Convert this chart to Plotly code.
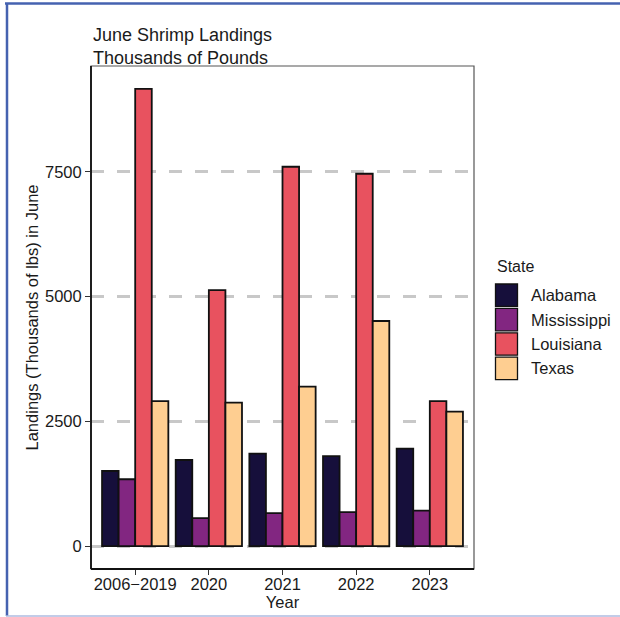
import plotly.graph_objects as go

# June shrimp landings by state (thousands of pounds)
years = ["2006\u22122019", "2020", "2021", "2022", "2023"]
states = ["Alabama", "Mississippi", "Louisiana", "Texas"]
alabama = [1505, 1725, 1855, 1805, 1955]
mississippi = [1340, 560, 660, 680, 710]
louisiana = [9160, 5130, 7600, 7460, 2905]
texas = [2905, 2875, 3195, 4510, 2695]
y_ticks = [0, 2500, 5000, 7500]

series = [alabama, mississippi, louisiana, texas]
colors = ["#160F3B", "#822681", "#E8525F", "#FECE91"]

W, H = 620, 617
L, R, T, B = 91, 474, 66, 569  # plot-area edges in pixels
FONT = "Liberation Sans, Arial, sans-serif"


def px(x):
    return (x - L) / (R - L)


def py(y):
    return (B - y) / (B - T)


fig = go.Figure()
for name, vals, col in zip(states, series, colors):
    fig.add_trace(go.Bar(
        x=years, y=vals, name=name,
        marker=dict(color=col, line=dict(color="#111111", width=1.8)),
        showlegend=False,
    ))

ymax = max(max(s) for s in series)

fig.update_layout(
    width=W, height=H,
    margin=dict(l=L, r=W - R, t=T, b=H - B, pad=0, autoexpand=False),
    paper_bgcolor="white", plot_bgcolor="white",
    barmode="group", bargap=0.1, bargroupgap=0,
    font=dict(family=FONT, color="#1a1a1a"),
    xaxis=dict(
        type="category", range=[-0.6, len(years) - 0.4],
        showgrid=False, zeroline=False, automargin=False,
        ticks="outside", ticklen=5, tickwidth=1.2, tickcolor="#333333",
        ticklabelstandoff=-5,
        tickfont=dict(size=16.5, color="#1a1a1a"),
        title=dict(text="Year", font=dict(size=16.5, color="#1a1a1a"), standoff=3),
        showline=False,
    ),
    yaxis=dict(
        range=[-0.05 * ymax, 1.05 * ymax], automargin=False,
        tickvals=y_ticks, ticktext=[str(v) for v in y_ticks],
        showgrid=True, gridcolor="#c8c8c8", gridwidth=3, griddash="13px,13px",
        zeroline=False,
        ticks="outside", ticklen=5, tickwidth=1.2, tickcolor="#333333",
        tickfont=dict(size=16.5, color="#1a1a1a"),
        title=dict(text="Landings (Thousands of lbs) in June",
                   font=dict(size=16.5, color="#1a1a1a"), standoff=2),
        showline=False,
    ),
)

shapes = []
# panel border: thin grey box, with black axis lines on left and bottom
shapes.append(dict(type="rect", xref="paper", yref="paper", x0=0, x1=1, y0=0, y1=1,
                   line=dict(color="#555555", width=1.2), layer="above"))
shapes.append(dict(type="line", xref="paper", yref="paper", x0=0, x1=0, y0=0, y1=1,
                   line=dict(color="#111111", width=1.8), layer="above"))
shapes.append(dict(type="line", xref="paper", yref="paper", x0=0, x1=1, y0=0, y1=0,
                   line=dict(color="#111111", width=1.8), layer="above"))

# frame around the figure
shapes.append(dict(type="line", xref="paper", yref="paper", x0=px(5), x1=px(W), y0=py(3.5), y1=py(3.5),
                   line=dict(color="#4562B0", width=2.5)))
shapes.append(dict(type="line", xref="paper", yref="paper", x0=px(7), x1=px(7), y0=py(3), y1=py(616),
                   line=dict(color="#4562B0", width=2.5)))
shapes.append(dict(type="line", xref="paper", yref="paper", x0=px(6), x1=px(W), y0=py(616), y1=py(616),
                   line=dict(color="#AEBBE0", width=1.5)))

# legend keys
key_x0, key_x1, key_top, key_h = 494.5, 518.5, 283.0, 24.4
annotations = []
for i, (name, col) in enumerate(zip(states, colors)):
    y0 = key_top + i * key_h
    shapes.append(dict(type="rect", xref="paper", yref="paper",
                       x0=px(key_x0 + 1), x1=px(key_x1 - 1), y0=py(y0 + key_h - 1), y1=py(y0 + 1),
                       fillcolor=col, line=dict(color="#111111", width=1.3)))
    annotations.append(dict(xref="paper", yref="paper", x=px(529), y=py(y0 + key_h / 2),
                            text=name, showarrow=False, xanchor="left", yanchor="middle",
                            font=dict(size=16.5, color="#1a1a1a")))
annotations.append(dict(xref="paper", yref="paper", x=px(495), y=py(266.5),
                        text="State", showarrow=False, xanchor="left", yanchor="middle",
                        font=dict(size=16, color="#1a1a1a")))

# chart title, two lines
annotations.append(dict(xref="paper", yref="paper", x=px(91), y=py(35),
                        text="June Shrimp Landings", showarrow=False,
                        xanchor="left", yanchor="middle", font=dict(size=18, color="#1a1a1a")))
annotations.append(dict(xref="paper", yref="paper", x=px(91), y=py(57.5),
                        text="Thousands of Pounds", showarrow=False,
                        xanchor="left", yanchor="middle", font=dict(size=18, color="#1a1a1a")))

fig.update_layout(shapes=shapes, annotations=annotations)
fig.write_html("out.html")
